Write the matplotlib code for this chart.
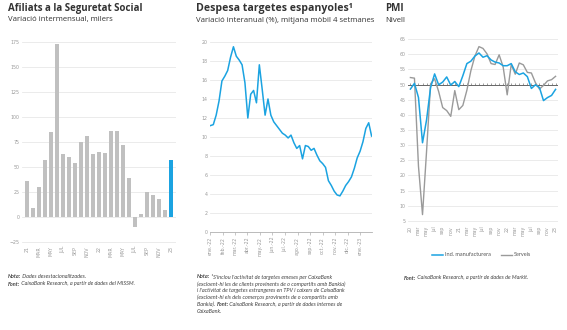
import matplotlib
matplotlib.use("Agg")
import matplotlib.pyplot as plt
from matplotlib.text import Annotation
import pandas as pd
import numpy as np

# ---------------- data ----------------
afil_labels = ['21', 'MAR', 'MAY', 'JUL', 'SEP', 'NOV', '22', 'MAR', 'MAY', 'JUL', 'SEP', 'NOV', '23']
afil_values = [36, 9, 30, 57, 85, 173, 63, 60, 54, 75, 81, 63, 65, 64, 86, 86, 72, 39,
               -10, 3, 25, 22, 18, 7, 57]

card_start = '2022-01-01'
card_values = [11.2, 11.3, 12.3, 13.8, 15.9, 16.4, 17.0, 18.4, 19.5, 18.5, 18.1, 17.6,
               15.7, 12.0, 14.5, 14.9, 13.6, 17.6, 15.0, 12.3, 14.0, 12.3, 11.6, 11.2,
               10.8, 10.4, 10.2, 9.9, 10.2, 9.4, 8.8, 9.1, 7.7, 9.1, 9.0, 8.6, 8.8, 8.1,
               7.5, 7.2, 6.8, 5.4, 4.9, 4.3, 3.9, 3.8, 4.3, 4.9, 5.3, 5.8, 6.7, 7.8, 8.5,
               9.5, 10.9, 11.5, 10.1]
card_month_labels = ['ene.-22', 'feb.-22', 'mar.-22', 'abr.-22', 'may.-22', 'jun.-22',
                     'jul.-22', 'ago.-22', 'sep.-22', 'oct.-22', 'nov.-22', 'dic.-22', 'ene.-23']

pmi_labels = ['20', 'mar', 'may', 'jul', 'sep', 'nov', '21', 'mar', 'may', 'jul', 'sep', 'nov',
              '22', 'mar', 'may', 'jul', 'sep', 'nov', '23']
pmi_manuf = [48.5, 50.4, 45.7, 30.8, 38.3, 49.0, 53.5, 49.9, 50.8, 52.5, 49.8, 51.0,
             49.3, 52.9, 56.9, 57.7, 59.4, 60.4, 59.0, 59.5, 58.1, 57.4, 57.1, 56.2,
             56.2, 56.9, 54.2, 53.3, 53.8, 52.6, 48.7, 49.9, 49.0, 44.7, 45.7, 46.4, 48.4]
pmi_serv = [52.3, 52.1, 23.0, 7.1, 27.9, 50.2, 51.9, 47.7, 42.4, 41.4, 39.5, 48.0,
            41.7, 43.1, 48.1, 54.6, 59.4, 62.5, 61.9, 60.1, 56.9, 56.6, 59.8, 55.8,
            46.6, 56.6, 53.4, 57.1, 56.5, 54.0, 53.8, 50.6, 48.5, 49.7, 51.2, 51.6, 52.7]

# ---------------- style ----------------
BLUE = '#1ba3e1'
GREYBAR = '#c0c0c0'
GREYLINE = '#9a9a9a'
GRID = '#e8e8e8'
TICK = '#9a9a9a'
TXT = '#333333'
W, H = 567, 330

fig = plt.figure(figsize=(W / 100, H / 100), dpi=100)
fig.patch.set_facecolor('white')

def axes_px(l, t, r, b):
    return fig.add_axes([l / W, 1 - b / H, (r - l) / W, (b - t) / H])

def clean(ax):
    for s in ax.spines.values():
        s.set_visible(False)
    ax.tick_params(axis='both', colors=TICK, labelsize=3.4, length=0, pad=1.5)
    ax.yaxis.grid(True, color=GRID, lw=0.6)
    ax.set_axisbelow(True)

TFONT = 'Open Sans'
NFONT = 'Lato'

def title(x, text, sub, tsize=7):
    fig.text(x / W, 1 - 3 / H, text, fontsize=tsize, fontweight='bold', family=TFONT,
             color=TXT, va='top', ha='left')
    fig.text(x / W, 1 - 16.5 / H, sub, fontsize=5.6, family=TFONT, color=TXT,
             va='top', ha='left')

def note_line(x, y, parts, size=4.0):
    prev = None
    for txt, bold in parts:
        kw = dict(fontsize=size, family=NFONT, style='italic', color='#444444',
                  fontweight='bold' if bold else 'normal', ha='left')
        if prev is None:
            prev = fig.text(x / W, 1 - y / H, txt, va='center', **kw)
        else:
            prev = fig.add_artist(Annotation(txt, xy=(1, 0), xycoords=prev, va='bottom', **kw))

# ---------------- chart 1 ----------------
ax1 = axes_px(22, 40, 176, 244)
clean(ax1)
x1 = np.arange(len(afil_values))
cols = [GREYBAR] * (len(afil_values) - 1) + [BLUE]
ax1.bar(x1, afil_values, width=0.62, color=cols)
ax1.set_ylim(-27, 177)
ax1.set_xlim(-0.8, len(afil_values) - 0.2)
ax1.set_yticks(np.arange(-25, 176, 25))
ax1.set_xticks(x1[::2])
ax1.set_xticklabels(afil_labels, rotation=90)
title(8, 'Afiliats a la Seguretat Social', 'Variació intermensual, milers')

# ---------------- chart 2 ----------------
ax2 = axes_px(210, 42, 372, 232)
clean(ax2)
dates = pd.date_range(card_start, periods=len(card_values), freq='7D')
ax2.plot(dates, card_values, color=BLUE, lw=1.1)
ax2.set_ylim(0, 20)
ax2.set_xlim(dates[0] - pd.Timedelta(days=1), dates[-1] + pd.Timedelta(days=1))
ax2.set_yticks(np.arange(0, 21, 2))
mticks = pd.date_range(card_start, periods=len(card_month_labels), freq='MS')
ax2.set_xticks(mticks)
ax2.set_xticklabels(card_month_labels, rotation=90)
ax2.spines['bottom'].set_visible(True)
ax2.spines['bottom'].set_color('#b0b0b0')
ax2.spines['bottom'].set_linewidth(0.6)
ax2.tick_params(axis='x', length=2, width=0.5, color='#b0b0b0', pad=1.5)
title(196, 'Despesa targetes espanyoles¹', 'Variació interanual (%), mitjana mòbil 4 setmanes',
      tsize=7.6)

# ---------------- chart 3 ----------------
ax3 = axes_px(408, 36, 558, 224)
clean(ax3)
x3 = np.arange(len(pmi_manuf))
ax3.plot(x3, pmi_manuf, color=BLUE, lw=1.1, label='Ind. manufacturera', zorder=3)
ax3.plot(x3, pmi_serv, color=GREYLINE, lw=1.0, label='Serveis', zorder=2)
ax3.set_ylim(4, 66)
ax3.set_xlim(-0.6, len(pmi_manuf) - 0.4)
ax3.set_yticks(np.arange(5, 66, 5))
ax3.set_xticks(x3[::2])
ax3.set_xticklabels(pmi_labels, rotation=90)
ax3.axhline(50, color='#666666', lw=0.7, zorder=1)
sec = ax3.secondary_xaxis((50 - 4) / 62)
sec.set_xticks(x3)
sec.tick_params(axis='x', length=1.5, width=0.5, color='#777777', labelbottom=False,
                labeltop=False, direction='out')
for s in sec.spines.values():
    s.set_visible(False)
leg = ax3.legend(loc='upper center', bbox_to_anchor=(0.49, -0.125), ncol=2, frameon=False,
                 fontsize=4.0, handlelength=2.0, columnspacing=1.8, handletextpad=0.3)
for t in leg.get_texts():
    t.set_color('#555555')
    t.set_family(NFONT)
title(385, 'PMI', 'Nivell')

# ---------------- notes ----------------
note_line(8, 277, [('Nota:', True), (' Dades desestacionalitzades.', False)])
note_line(8, 284, [('Font:', True), (' CaixaBank Research, a partir de dades del MISSM.', False)])

n2 = [
    [('Nota:', True), (' ¹S\'inclou l\'activitat de targetes emeses per CaixaBank', False)],
    [('(excloent-hi les de clients provinents de o compartits amb Bankia)', False)],
    [('i l\'activitat de targetes estrangeres en TPV i caixers de CaixaBank', False)],
    [('(excloent-hi els dels comerços provinents de o compartits amb', False)],
    [('Bankia). ', False), ('Font:', True), (' CaixaBank Research, a partir de dades internes de', False)],
    [('CaixaBank.', False)],
]
for i, parts in enumerate(n2):
    note_line(197, 277 + i * 6.9, parts)

note_line(404, 278, [('Font:', True), (' CaixaBank Research, a partir de dades de Markit.', False)])

fig.savefig('out.png', dpi=100, facecolor='white')
